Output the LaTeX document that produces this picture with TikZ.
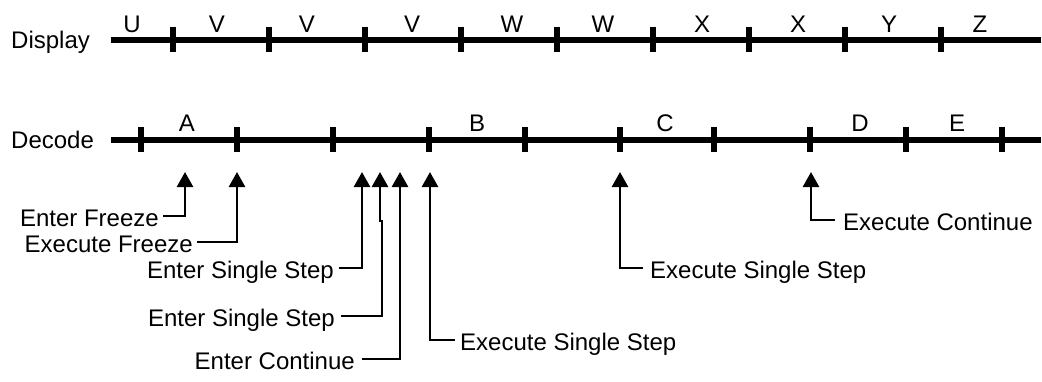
\documentclass[tikz,border=0pt]{standalone}
\usepackage{fontspec}
\setmainfont{Liberation Sans}
\usetikzlibrary{arrows.meta}
\begin{document}
\begin{tikzpicture}[x=1pt,y=-1pt,
  lbl/.style={inner sep=0pt, font=\fontsize{24}{28}\selectfont},
  tline/.style={line width=5.5pt},
  tick/.style={line width=5.5pt},
  arr/.style={line width=2.6pt, -{Triangle[length=15pt,width=16pt]}}]
\useasboundingbox (0,0) rectangle (1042,381);
% row labels
\node[lbl, anchor=base west] (disp) at (11,48) {Display};
\node[lbl, anchor=base west] (dec) at (11,148) {Decode};
% timelines
\coordinate (d0) at (111,40); \coordinate (d1) at (1041,40);
\coordinate (e0) at (111,140); \coordinate (e1) at (1041,140);
\draw[tline] (d0) -- (d1);
\draw[tline] (e0) -- (e1);
\foreach \x in {173,269,365,461,557,653,749,845,941}
  \draw[tick] (\x,27) -- (\x,52);
\foreach \x in {141,237,333,429,525,620,714,810,906,1002}
  \draw[tick] (\x,127) -- (\x,152);
% display labels
\foreach \x/\t [count=\i] in {132/U,217/V,307/V,412/V,512/W,603/W,702/X,798/X,889/Y,980/Z}
  \node[lbl, anchor=base] (dl\i) at (\x,32) {\t};
% decode labels
\foreach \x/\t [count=\i] in {187/A,477/B,665/C,860/D,957/E}
  \node[lbl, anchor=base] (el\i) at (\x,131) {\t};
% arrow tips
\coordinate (t1) at (185,172);
\coordinate (t2) at (237,172);
\coordinate (t3) at (362,172);
\coordinate (t4) at (380,172);
\coordinate (j4) at (382,221);
\coordinate (t5) at (400,172);
\coordinate (t6) at (430,172);
\coordinate (t7) at (620,172);
\coordinate (t8) at (811,172);
% event labels
\node[lbl, anchor=base east] (ef) at (159,226) {Enter Freeze};
\node[lbl, anchor=base east] (xf) at (193,252) {Execute Freeze};
\node[lbl, anchor=base east] (es1) at (334,278) {Enter Single Step};
\node[lbl, anchor=base east] (es2) at (335,326) {Enter Single Step};
\node[lbl, anchor=base east] (ec) at (355,369) {Enter Continue};
\node[lbl, anchor=base west] (xs1) at (460,350) {Execute Single Step};
\node[lbl, anchor=base west] (xs2) at (650,278) {Execute Single Step};
\node[lbl, anchor=base west] (xc) at (843,230) {Execute Continue};
% connectors
\draw[arr] ([xshift=4pt,yshift=10pt]ef.base east) -| (t1);
\draw[arr] ([xshift=4pt,yshift=10pt]xf.base east) -| (t2);
\draw[arr] ([xshift=5pt,yshift=10pt]es1.base east) -| (t3);
\draw[arr] ([xshift=6pt,yshift=10pt]es2.base east) -| (j4) -| (t4);
\draw[arr] ([xshift=7pt,yshift=10pt]ec.base east) -| (t5);
\draw[arr] ([xshift=-5pt,yshift=10pt]xs1.base west) -| (t6);
\draw[arr] ([xshift=-7pt,yshift=10pt]xs2.base west) -| (t7);
\draw[arr] ([xshift=-8pt,yshift=10pt]xc.base west) -| (t8);
\end{tikzpicture}
\end{document}
